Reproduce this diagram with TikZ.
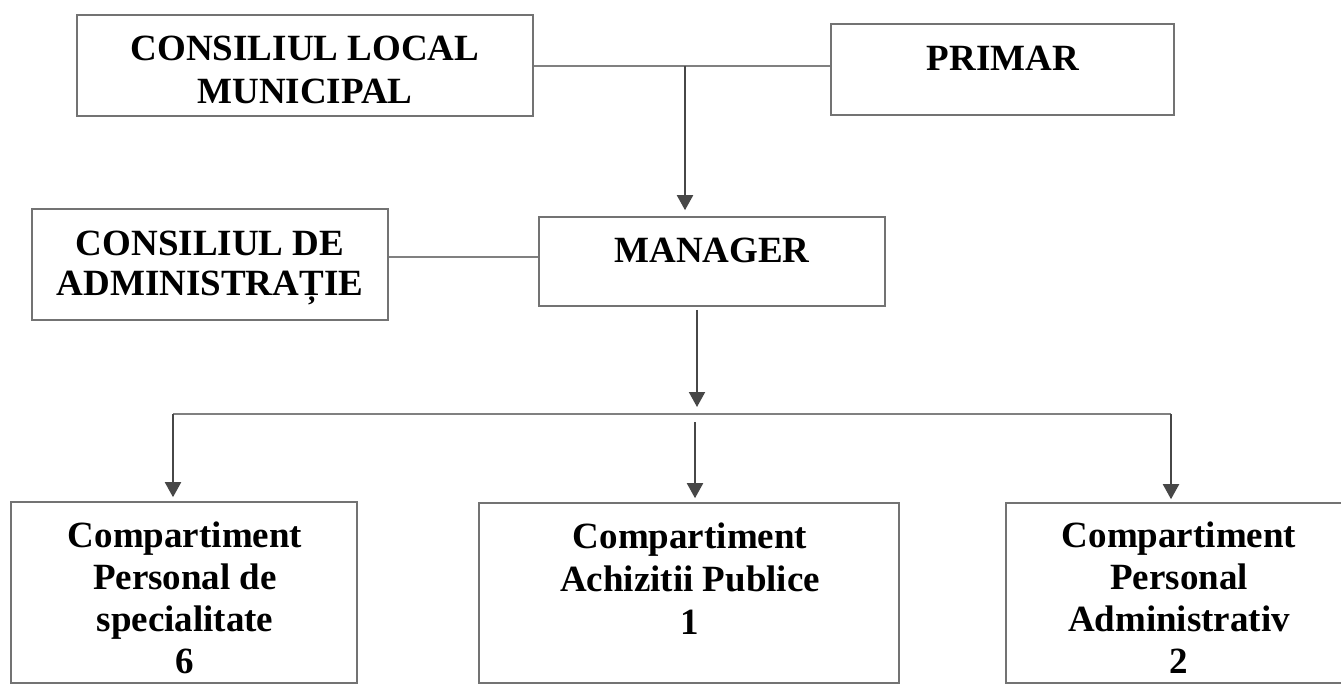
\documentclass[tikz,border=0pt]{standalone}
\usepackage{fontspec}
\setmainfont{Liberation Serif}
\usetikzlibrary{arrows.meta}
\definecolor{boxgray}{gray}{0.45}
\definecolor{linegray}{gray}{0.5}
\definecolor{arrgray}{gray}{0.28}
\begin{document}
\begin{tikzpicture}[x=1pt,y=-1pt,
  box/.style={draw=boxgray, line width=1.6pt, rectangle, inner sep=0pt},
  lbl/.style={align=center, inner sep=0pt, font=\bfseries\fontsize{37}{#1}\selectfont},
  conn/.style={draw=linegray, line width=1.4pt},
  arr/.style={draw=arrgray, line width=2pt, -{Triangle[width=16pt,length=15pt]}}]
\useasboundingbox (0,0) rectangle (1341,684);
% boxes
\node[box, minimum width=456pt, minimum height=101pt] (clm) at (305,65.5) {};
\node[box, minimum width=343pt, minimum height=91pt] (primar) at (1002.5,69.5) {};
\node[box, minimum width=346pt, minimum height=89pt] (manager) at (712,261.5) {};
\node[box, minimum width=356pt, minimum height=111pt] (cda) at (210,264.5) {};
\node[box, minimum width=346pt, minimum height=181pt] (left) at (184,592.5) {};
\node[box, minimum width=420pt, minimum height=180pt] (mid) at (689,593) {};
\node[box, minimum width=346pt, minimum height=180pt] (right) at (1179,593) {};
% texts
\node[lbl=43] (clmT) at (305,70) {CONSILIUL LOCAL\\MUNICIPAL};
\node[lbl=36] (primarT) at (1003,58) {PRIMAR};
\node[lbl=36] (managerT) at (712,250) {MANAGER};
\node[lbl=40] (cdaT) at (210,267.5) {CONSILIUL DE\\ADMINISTRAȚIE};
\node[lbl=42] (leftT) at (185,598) {Compartiment\\Personal de\\specialitate\\6};
\node[lbl=43] (midT) at (690,579) {Compartiment\\Achizitii Publice\\1};
\node[lbl=42] (rightT) at (1179,598) {Compartiment\\Personal\\Administrativ\\2};
% coordinates
\coordinate (j1) at (685,66);
\coordinate (m1) at (697,310);
\coordinate (m2) at (697,407);
\coordinate (busL) at (173,414);
\coordinate (busR) at (1171,414);
\coordinate (busM) at (695,422);
% connectors
\draw[conn] (clm.east |- j1) -- (primar.west |- j1);
\draw[arr, shorten >=6pt] (j1) -- (j1 |- manager.north);
\draw[conn] ([yshift=7.5pt]cda.east) -- ([yshift=7.5pt]cda.east -| manager.west);
\draw[arr] (m1) -- (m2);
\draw[conn] (busL) -- (busR);
\draw[arr, shorten >=4pt] (busL) -- (busL |- left.north);
\draw[arr, shorten >=4pt] (busM) -- (busM |- mid.north);
\draw[arr, shorten >=3pt] (busR) -- (busR |- right.north);
\end{tikzpicture}
\end{document}
